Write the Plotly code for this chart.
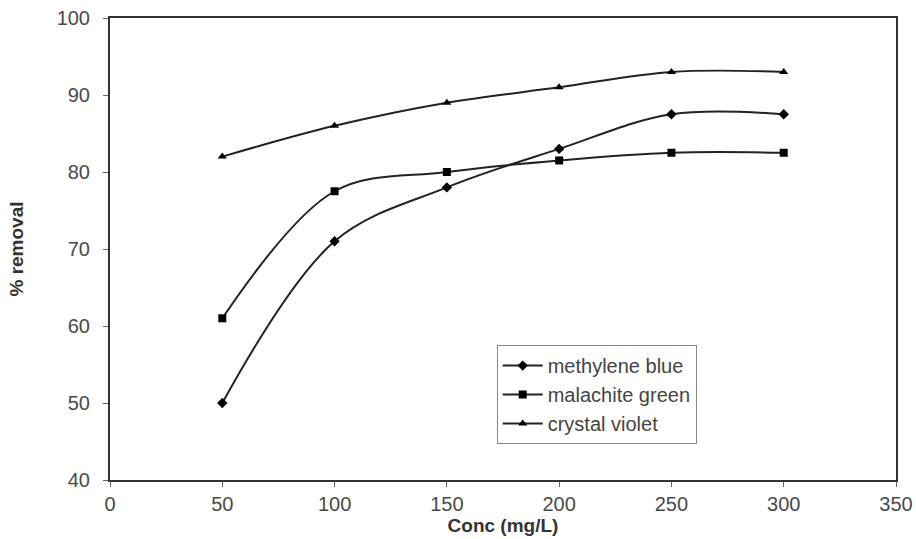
import plotly.graph_objects as go

conc = [50, 100, 150, 200, 250, 300]
methylene_blue = [50, 71, 78, 83, 87.5, 87.5]
malachite_green = [61, 77.5, 80, 81.5, 82.5, 82.5]
crystal_violet = [82, 86, 89, 91, 93, 93]

x_ticks = [0, 50, 100, 150, 200, 250, 300, 350]
y_ticks = [40, 50, 60, 70, 80, 90, 100]

fig = go.Figure()
series = [
    ("methylene blue", methylene_blue, "diamond", 8),
    ("malachite green", malachite_green, "square", 8),
    ("crystal violet", crystal_violet, "triangle-up", 8),
]
for name, ys, sym, sz in series:
    fig.add_trace(go.Scatter(
        x=conc, y=ys, name=name, mode="lines+markers",
        line=dict(color="#222222", width=2, shape="spline", smoothing=1),
        marker=dict(symbol=sym, size=sz, color="#000000"),
    ))

fig.update_layout(
    width=916, height=539,
    margin=dict(l=110, r=20, t=18, b=59),
    paper_bgcolor="white", plot_bgcolor="white",
    font=dict(family="Liberation Sans, Arial, sans-serif", color="#444444", size=20),
    showlegend=True,
    legend=dict(
        x=0.492, y=0.292, xanchor="left", yanchor="top",
        bordercolor="#888888", borderwidth=1, bgcolor="white",
        font=dict(size=20, color="#444444"),
        tracegroupgap=0, itemwidth=40,
    ),
)
fig.update_xaxes(
    range=[0, 350], tickvals=x_ticks, ticktext=[str(v) for v in x_ticks],
    showgrid=False, zeroline=False, automargin=False, ticklabeloverflow="allow",
    showline=True, linecolor="#333333", linewidth=2, mirror=True,
    ticks="outside", ticklen=5, tickcolor="#666666",
    tickfont=dict(size=20, color="#4a4a4a"),
    title=dict(text="<b>Conc (mg/L)</b>", font=dict(size=19, color="#333333"), standoff=4),
)
fig.update_yaxes(
    range=[40, 100], tickvals=y_ticks, ticktext=[str(v) for v in y_ticks],
    showgrid=False, zeroline=False, automargin=False, ticklabeloverflow="allow",
    showline=True, linecolor="#333333", linewidth=2, mirror=True,
    ticks="outside", ticklen=5, tickcolor="#666666", ticklabelstandoff=9,
    tickfont=dict(size=20, color="#4a4a4a"),
    title=dict(text="<b>% removal</b>", font=dict(size=19, color="#333333"), standoff=28),
)

fig.write_html(
    "out.html",
    config={"displayModeBar": False},
    post_script="document.body.style.margin='0';document.body.style.overflow='hidden';",
)
